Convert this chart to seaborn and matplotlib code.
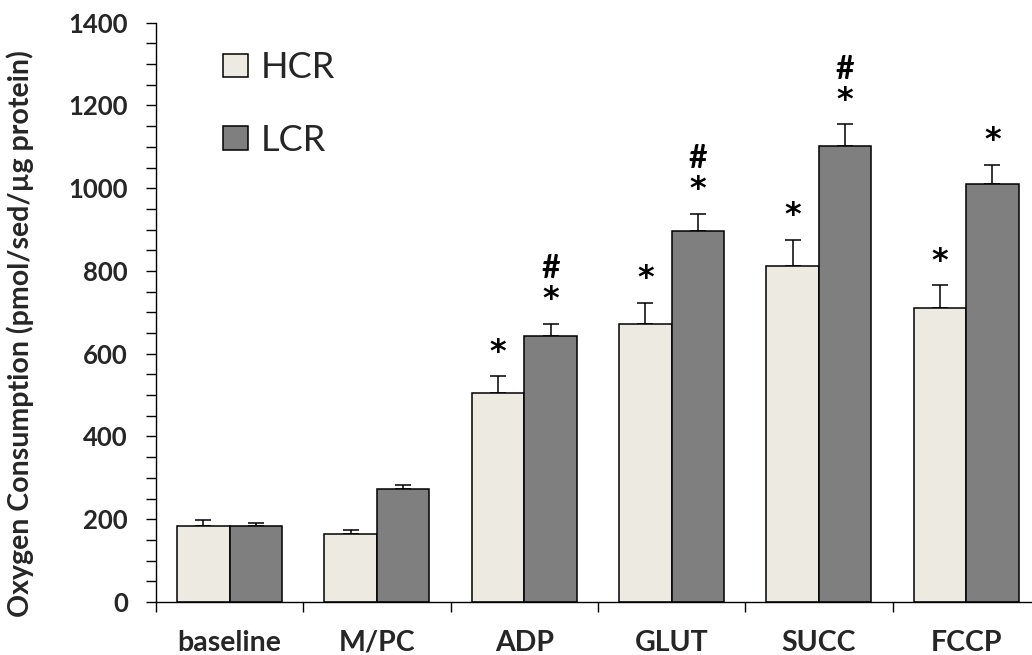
import numpy as np
import pandas as pd
import matplotlib
matplotlib.use("Agg")
import matplotlib.pyplot as plt
import seaborn as sns
from matplotlib.ticker import MultipleLocator
from matplotlib.patches import Patch

# Respiration by substrate step, mean and SEM (pmol/sec/ug protein)
conditions = ["baseline", "M/PC", "ADP", "GLUT", "SUCC", "FCCP"]
groups = ["HCR", "LCR"]
hcr_mean = [183, 164, 506, 671, 813, 710]
hcr_sem = [14, 10, 40, 52, 63, 55]
lcr_mean = [183, 273, 643, 896, 1101, 1010]
lcr_sem = [8, 10, 30, 42, 53, 47]
# significance marks, listed bottom to top
hcr_sig = ["", "", "*", "*", "*", "*"]
lcr_sig = ["", "", "*#", "*#", "*#", "*"]
colors = {"HCR": "#EDEBE1", "LCR": "#7F7F7F"}

sns.set_style("ticks")
plt.rcParams["font.family"] = ["Lato", "DejaVu Sans"]

df = pd.DataFrame({
    "condition": conditions * 2,
    "group": ["HCR"] * len(conditions) + ["LCR"] * len(conditions),
    "value": hcr_mean + lcr_mean,
})
means = {"HCR": hcr_mean, "LCR": lcr_mean}
sems = {"HCR": hcr_sem, "LCR": lcr_sem}
sigs = {"HCR": hcr_sig, "LCR": lcr_sig}

W, H = 1032, 655
fig = plt.figure(figsize=(W / 100, H / 100), dpi=100)
ax = fig.add_axes([156 / W, 53 / H, 876 / W, 579.3 / H])

sns.barplot(data=df, x="condition", y="value", hue="group",
            order=conditions, hue_order=groups, palette=colors,
            width=0.713, gap=0, saturation=1, errorbar=None,
            edgecolor="black", linewidth=1.1, legend=False, ax=ax, zorder=2)

for container, g in zip(ax.containers, groups):
    for bar in container:
        xc = bar.get_x() + bar.get_width() / 2
        i = int(round(xc))
        m, e = means[g][i], sems[g][i]
        ax.errorbar(xc, m, yerr=[[0], [e]], fmt="none", ecolor="black",
                    elinewidth=1.1, capsize=5.5, capthick=1.1, zorder=1)
        for k, ch in enumerate(sigs[g][i]):
            ax.text(xc, m + e + 58 + k * 76, ch, ha="center", va="center",
                    fontsize=23, fontweight="bold", color="black",
                    family=["DejaVu Sans"] if ch == "*" else ["Lato", "DejaVu Sans"])

ax.set_ylim(0, 1400)
ax.set_xlim(-0.5, -0.5 + 876 / 147.3)
ax.yaxis.set_major_locator(MultipleLocator(200))
ax.yaxis.set_minor_locator(MultipleLocator(50))
ax.tick_params(axis="y", which="both", length=7.2, width=1.0, direction="out",
               color="black", pad=13, labelsize=18.5)
for t in ax.get_yticklabels():
    t.set_fontweight("bold")

ax.set_xticks(np.arange(-0.5, 5.0, 1.0))
ax.set_xticklabels([])
ax.set_xticks(range(len(conditions)), conditions, minor=True)
ax.tick_params(axis="x", which="major", length=7.2, width=1.0, direction="out",
               color="black")
ax.tick_params(axis="x", which="minor", length=0, pad=20, labelsize=20.5)
for t in ax.get_xticklabels(minor=True):
    t.set_fontweight("bold")

ax.set_xlabel("")
ax.set_ylabel("Oxygen Consumption (pmol/sed/\u00b5g protein)", fontsize=20.5,
              fontweight="bold")
ax.yaxis.set_label_coords((34 - 156) / 876, (602 - 333.5) / 579.3)

for s in ("top", "right"):
    ax.spines[s].set_visible(False)
for s in ("left", "bottom"):
    ax.spines[s].set_color("black")
    ax.spines[s].set_linewidth(1.0)

handles = [Patch(facecolor=colors[g], edgecolor="black", linewidth=1.1, label=g)
           for g in groups]
ax.legend(handles=handles, loc="upper left",
          bbox_to_anchor=((223 - 156) / 876, (602 - 51) / 579.3),
          frameon=False, fontsize=26, handlelength=0.69, handleheight=0.62,
          handletextpad=0.35, labelspacing=1.1, borderpad=0, borderaxespad=0)

fig.savefig("out.png", dpi=100, facecolor="white")
